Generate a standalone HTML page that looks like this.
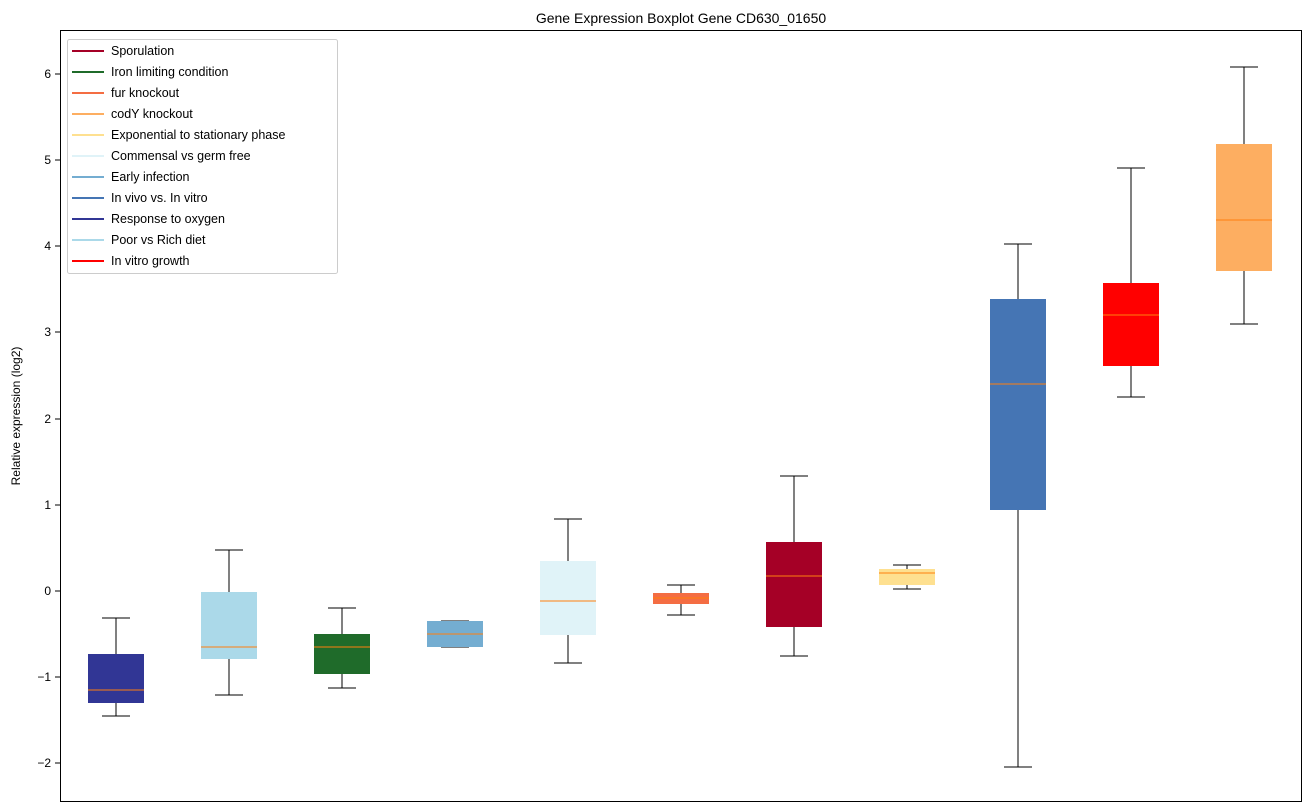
<!DOCTYPE html>
<html><head><meta charset="utf-8"><style>body{margin:0;background:#fff}svg{display:block;font-family:"Liberation Sans","DejaVu Sans",sans-serif}</style></head><body>
<svg width="1309" height="812" xmlns="http://www.w3.org/2000/svg">
<text x="681" y="23" font-size="14" text-anchor="middle">Gene Expression Boxplot Gene CD630_01650</text>
<text transform="translate(20,416) rotate(-90)" font-size="12" text-anchor="middle">Relative expression (log2)</text>
<g font-size="12" text-anchor="end">
<line x1="55" x2="60" y1="74" y2="74" stroke="#000"/><text x="51" y="78">6</text>
<line x1="55" x2="60" y1="160" y2="160" stroke="#000"/><text x="51" y="164">5</text>
<line x1="55" x2="60" y1="246" y2="246" stroke="#000"/><text x="51" y="250">4</text>
<line x1="55" x2="60" y1="332" y2="332" stroke="#000"/><text x="51" y="336">3</text>
<line x1="55" x2="60" y1="419" y2="419" stroke="#000"/><text x="51" y="423">2</text>
<line x1="55" x2="60" y1="505" y2="505" stroke="#000"/><text x="51" y="509">1</text>
<line x1="55" x2="60" y1="591" y2="591" stroke="#000"/><text x="51" y="595">0</text>
<line x1="55" x2="60" y1="677" y2="677" stroke="#000"/><text x="51" y="681">−1</text>
<line x1="55" x2="60" y1="763" y2="763" stroke="#000"/><text x="51" y="767">−2</text>
</g>
<g stroke="#000">
<!-- 1 -->
<line x1="116" x2="116" y1="716" y2="703"/><line x1="116" x2="116" y1="618" y2="654"/><line x1="102" x2="130" y1="716" y2="716"/><line x1="102" x2="130" y1="618" y2="618"/>
<rect x="88" y="654" width="56" height="49" fill="#313695" stroke="none"/><line x1="88" x2="144" y1="690" y2="690" stroke="#ff7f0e"/>
<!-- 2 -->
<line x1="229" x2="229" y1="695" y2="659"/><line x1="229" x2="229" y1="550" y2="592"/><line x1="215" x2="243" y1="695" y2="695"/><line x1="215" x2="243" y1="550" y2="550"/>
<rect x="201" y="592" width="56" height="67" fill="#abd9e9" stroke="none"/><line x1="201" x2="257" y1="647" y2="647" stroke="#ff7f0e"/>
<!-- 3 -->
<line x1="342" x2="342" y1="688" y2="674"/><line x1="342" x2="342" y1="608" y2="634"/><line x1="328" x2="356" y1="688" y2="688"/><line x1="328" x2="356" y1="608" y2="608"/>
<rect x="314" y="634" width="56" height="40" fill="#1f6b2a" stroke="none"/><line x1="314" x2="370" y1="647" y2="647" stroke="#ff7f0e"/>
<!-- 4 -->
<line x1="441" x2="469" y1="647" y2="647"/><line x1="441" x2="469" y1="621" y2="621"/>
<rect x="427" y="621" width="56" height="26" fill="#74add1" stroke="none"/><line x1="427" x2="483" y1="634" y2="634" stroke="#ff7f0e"/>
<!-- 5 -->
<line x1="568" x2="568" y1="663" y2="635"/><line x1="568" x2="568" y1="519" y2="561"/><line x1="554" x2="582" y1="663" y2="663"/><line x1="554" x2="582" y1="519" y2="519"/>
<rect x="540" y="561" width="56" height="74" fill="#e0f3f8" stroke="none"/><line x1="540" x2="596" y1="601" y2="601" stroke="#ff7f0e"/>
<!-- 6 -->
<line x1="681" x2="681" y1="615" y2="604"/><line x1="681" x2="681" y1="585" y2="593"/><line x1="667" x2="695" y1="615" y2="615"/><line x1="667" x2="695" y1="585" y2="585"/>
<rect x="653" y="593" width="56" height="11" fill="#f46d43" stroke="none"/><line x1="653" x2="709" y1="598" y2="598" stroke="#ff7f0e"/>
<!-- 7 -->
<line x1="794" x2="794" y1="656" y2="627"/><line x1="794" x2="794" y1="476" y2="542"/><line x1="780" x2="808" y1="656" y2="656"/><line x1="780" x2="808" y1="476" y2="476"/>
<rect x="766" y="542" width="56" height="85" fill="#a50026" stroke="none"/><line x1="766" x2="822" y1="576" y2="576" stroke="#ff7f0e"/>
<!-- 8 -->
<line x1="907" x2="907" y1="589" y2="585"/><line x1="907" x2="907" y1="565" y2="569"/><line x1="893" x2="921" y1="589" y2="589"/><line x1="893" x2="921" y1="565" y2="565"/>
<rect x="879" y="569" width="56" height="16" fill="#fee090" stroke="none"/><line x1="879" x2="935" y1="573" y2="573" stroke="#ff7f0e"/>
<!-- 9 -->
<line x1="1018" x2="1018" y1="767" y2="510"/><line x1="1018" x2="1018" y1="244" y2="299"/><line x1="1004" x2="1032" y1="767" y2="767"/><line x1="1004" x2="1032" y1="244" y2="244"/>
<rect x="990" y="299" width="56" height="211" fill="#4575b4" stroke="none"/><line x1="990" x2="1046" y1="384" y2="384" stroke="#ff7f0e"/>
<!-- 10 -->
<line x1="1131" x2="1131" y1="397" y2="366"/><line x1="1131" x2="1131" y1="168" y2="283"/><line x1="1117" x2="1145" y1="397" y2="397"/><line x1="1117" x2="1145" y1="168" y2="168"/>
<rect x="1103" y="283" width="56" height="83" fill="#ff0000" stroke="none"/><line x1="1103" x2="1159" y1="315" y2="315" stroke="#ff7f0e"/>
<!-- 11 -->
<line x1="1244" x2="1244" y1="324" y2="271"/><line x1="1244" x2="1244" y1="67" y2="144"/><line x1="1230" x2="1258" y1="324" y2="324"/><line x1="1230" x2="1258" y1="67" y2="67"/>
<rect x="1216" y="144" width="56" height="127" fill="#fdae61" stroke="none"/><line x1="1216" x2="1272" y1="220" y2="220" stroke="#ff7f0e"/>
</g>
<rect x="60.5" y="30.5" width="1241" height="771" fill="none" stroke="#000"/>
<rect x="67.5" y="39.5" width="270" height="234" fill="#fff" stroke="#ccc" rx="2"/>
<g font-size="12.5">
<line x1="72" x2="104" y1="51" y2="51" stroke="#a50026" stroke-width="2"/><text x="111" y="55">Sporulation</text>
<line x1="72" x2="104" y1="72" y2="72" stroke="#1f6b2a" stroke-width="2"/><text x="111" y="76">Iron limiting condition</text>
<line x1="72" x2="104" y1="93" y2="93" stroke="#f46d43" stroke-width="2"/><text x="111" y="97">fur knockout</text>
<line x1="72" x2="104" y1="114" y2="114" stroke="#fdae61" stroke-width="2"/><text x="111" y="118">codY knockout</text>
<line x1="72" x2="104" y1="135" y2="135" stroke="#fee090" stroke-width="2"/><text x="111" y="139">Exponential to stationary phase</text>
<line x1="72" x2="104" y1="156" y2="156" stroke="#e0f3f8" stroke-width="2"/><text x="111" y="160">Commensal vs germ free</text>
<line x1="72" x2="104" y1="177" y2="177" stroke="#74add1" stroke-width="2"/><text x="111" y="181">Early infection</text>
<line x1="72" x2="104" y1="198" y2="198" stroke="#4575b4" stroke-width="2"/><text x="111" y="202">In vivo vs. In vitro</text>
<line x1="72" x2="104" y1="219" y2="219" stroke="#313695" stroke-width="2"/><text x="111" y="223">Response to oxygen</text>
<line x1="72" x2="104" y1="240" y2="240" stroke="#abd9e9" stroke-width="2"/><text x="111" y="244">Poor vs Rich diet</text>
<line x1="72" x2="104" y1="261" y2="261" stroke="#ff0000" stroke-width="2"/><text x="111" y="265">In vitro growth</text>
</g>
</svg>
</body></html>
